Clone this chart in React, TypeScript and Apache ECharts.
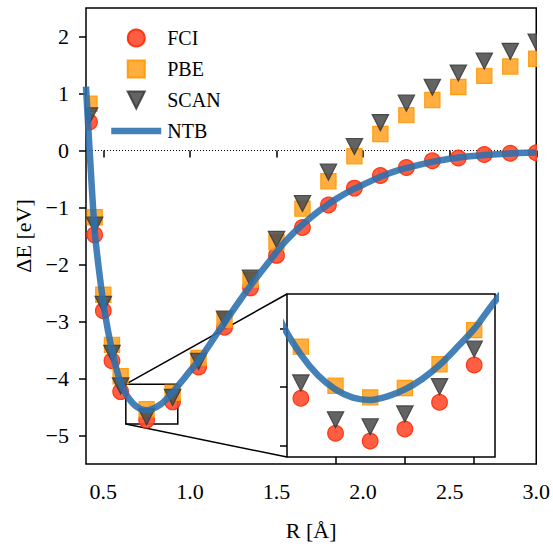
import React, { useEffect, useRef } from 'react';
import * as echarts from 'echarts';

// ---- data ----
const R_MAIN = [0.42, 0.45, 0.5, 0.55, 0.6, 0.75, 0.9, 1.05, 1.2, 1.35, 1.5, 1.65, 1.8, 1.95, 2.1, 2.25, 2.4, 2.55, 2.7, 2.85, 3.0];
const FCI_MAIN = [0.5, -1.48, -2.81, -3.69, -4.23, -4.73, -4.41, -3.8, -3.1, -2.41, -1.84, -1.35, -0.955, -0.66, -0.44, -0.3, -0.18, -0.13, -0.07, -0.05, -0.04];
const PBE_MAIN = [0.82, -1.17, -2.53, -3.41, -3.96, -4.54, -4.25, -3.64, -2.97, -2.27, -1.61, -1.02, -0.54, -0.1, 0.29, 0.62, 0.885, 1.115, 1.31, 1.475, 1.61];
const SCAN_MAIN = [0.61, -1.31, -2.7, -3.56, -4.13, -4.67, -4.33, -3.7, -2.96, -2.24, -1.56, -0.93, -0.38, 0.07, 0.49, 0.83, 1.11, 1.36, 1.57, 1.74, 1.9];

const R_INSET = [0.65, 0.7, 0.75, 0.8, 0.85, 0.9];
const FCI_INSET = [-4.548, -4.698, -4.731, -4.68, -4.565, -4.405];
const PBE_INSET = [-4.326, -4.494, -4.544, -4.504, -4.402, -4.255];
const SCAN_INSET = [-4.482, -4.64, -4.67, -4.615, -4.498, -4.337];

const R_NTB = [0.4, 0.42, 0.45, 0.475, 0.5, 0.525, 0.55, 0.575, 0.6, 0.625, 0.65, 0.675, 0.7, 0.725, 0.75, 0.775, 0.8, 0.825, 0.85, 0.875, 0.9, 0.925, 0.95, 1.0, 1.05, 1.1, 1.15, 1.2, 1.25, 1.3, 1.35, 1.4, 1.45, 1.5, 1.55, 1.6, 1.65, 1.7, 1.75, 1.8, 1.85, 1.9, 1.95, 2.0, 2.1, 2.2, 2.3, 2.4, 2.5, 2.6, 2.7, 2.8, 2.9, 3.0];
const E_NTB = [1.12, 0.05, -1.4, -2.1, -2.67, -3.13, -3.5, -3.82, -4.07, -4.24, -4.36, -4.45, -4.51, -4.545, -4.555, -4.54, -4.51, -4.465, -4.405, -4.33, -4.25, -4.15, -4.06, -3.87, -3.69, -3.47, -3.24, -3.02, -2.8, -2.58, -2.37, -2.17, -1.98, -1.78, -1.6, -1.44, -1.3, -1.17, -1.05, -0.94, -0.84, -0.75, -0.67, -0.6, -0.46, -0.35, -0.27, -0.2, -0.145, -0.105, -0.08, -0.06, -0.045, -0.035];

const X_TICKS = [0.5, 1.0, 1.5, 2.0, 2.5, 3.0];
const Y_TICKS = [-5, -4, -3, -2, -1, 0, 1, 2];
const INSET_X_TICKS = [0.7, 0.8, 0.9];
const INSET_Y_TICKS = [-4.75, -4.5, -4.25];
const ZOOM_X = [0.63, 0.93];
const ZOOM_Y = [-4.8, -4.1];

const FONT = 'Liberation Serif';

const STY: Record<string, { fill: string; stroke: string; opacity: number }> = {
  FCI: { fill: '#ff4d2e', stroke: '#ff2a00', opacity: 0.9 },
  PBE: { fill: '#ffa52a', stroke: '#ff9800', opacity: 0.9 },
  SCAN: { fill: '#4d4d4d', stroke: '#3a3a3a', opacity: 0.88 },
};
const NTB_COLOR = '#2a6fae';

function markerSeries(name: string, shape: string, xs: number[], ys: number[], g: number) {
  const st = STY[name];
  return {
    type: 'custom',
    name,
    xAxisIndex: g,
    yAxisIndex: g,
    clip: true,
    data: xs.map((x, i) => [x, ys[i]]),
    encode: { x: 0, y: 1 },
    itemStyle: { color: st.fill, borderColor: st.stroke, borderWidth: 1.2, opacity: st.opacity },
    renderItem: (params: any, api: any) => {
      const p = api.coord([api.value(0), api.value(1)]);
      const style = { fill: st.fill, stroke: st.stroke, lineWidth: 1.2, opacity: st.opacity };
      if (shape === 'circle') return { type: 'circle', shape: { cx: p[0], cy: p[1], r: 7.8 }, style };
      if (shape === 'square') return { type: 'rect', shape: { x: p[0] - 7.6, y: p[1] - 7.6, width: 15.2, height: 15.2 }, style };
      return { type: 'polygon', shape: { points: [[p[0] - 8.2, p[1] - 8], [p[0] + 8.2, p[1] - 8], [p[0], p[1] + 8]] }, style };
    },
  };
}

function ntbSeries(g: number, extra: any = {}) {
  return {
    type: 'line',
    name: 'NTB',
    xAxisIndex: g,
    yAxisIndex: g,
    data: R_NTB.map((x, i) => [x, E_NTB[i]]),
    showSymbol: false,
    symbol: 'none',
    smooth: 0.3,
    clip: true,
    itemStyle: { color: NTB_COLOR },
    lineStyle: { color: NTB_COLOR, width: 6.5, opacity: 0.88 },
    ...extra,
  };
}

const fmtY = (v: number) => (v < 0 ? '\u2212' + Math.abs(v) : String(v));

export default function App() {
  const ref = useRef<HTMLDivElement>(null);
  useEffect(() => {
    if (!ref.current) return;
    const chart = echarts.init(ref.current, null, { renderer: 'svg' });
    const tickStyle = { color: '#000', width: 1.5 };
    const option: any = {
      animation: false,
      backgroundColor: '#fff',
      textStyle: { fontFamily: FONT },
      grid: [
        { left: 86, top: 8, width: 451, height: 465, show: true, borderColor: '#000', borderWidth: 1.5, backgroundColor: 'transparent' },
        { left: 287, top: 294, width: 208, height: 163, show: true, borderColor: '#000', borderWidth: 1.5, backgroundColor: '#fff' },
      ],
      xAxis: [
        {
          type: 'value', gridIndex: 0, min: 0.4, max: 3.0,
          axisLine: { show: false },
          splitLine: { show: false },
          axisTick: { show: true, length: 7, lineStyle: tickStyle, customValues: X_TICKS },
          axisLabel: { customValues: X_TICKS, formatter: (v: number) => v.toFixed(1), fontSize: 22, fontFamily: FONT, color: '#000', margin: 16 },
          name: 'R [Å]', nameLocation: 'middle', nameGap: 55,
          nameTextStyle: { fontSize: 22, fontFamily: FONT, color: '#000' },
        },
        {
          type: 'value', gridIndex: 1, min: ZOOM_X[0], max: ZOOM_X[1],
          axisLine: { show: false },
          splitLine: { show: false },
          axisTick: { show: true, length: 7, lineStyle: tickStyle, customValues: INSET_X_TICKS },
          axisLabel: { show: false },
        },
      ],
      yAxis: [
        {
          type: 'value', gridIndex: 0, min: -5.5, max: 2.5,
          axisLine: { show: false },
          splitLine: { show: false },
          axisTick: { show: true, length: 7, lineStyle: tickStyle, customValues: Y_TICKS },
          axisLabel: { customValues: Y_TICKS, formatter: fmtY, fontSize: 22, fontFamily: FONT, color: '#000', margin: 17 },
          name: 'ΔE [eV]', nameLocation: 'middle', nameGap: 44, nameRotate: 90,
          nameTextStyle: { fontSize: 22, fontFamily: FONT, color: '#000' },
        },
        {
          type: 'value', gridIndex: 1, min: ZOOM_Y[0], max: ZOOM_Y[1],
          axisLine: { show: false },
          splitLine: { show: false },
          axisTick: { show: true, length: 7, lineStyle: tickStyle, customValues: INSET_Y_TICKS },
          axisLabel: { show: false },
        },
      ],
      legend: {
        orient: 'vertical', left: 103, top: 23, itemWidth: 50, itemHeight: 17, itemGap: 11,
        selectedMode: false,
        textStyle: { fontSize: 20, fontFamily: FONT, color: '#000', padding: [0, 0, 0, 1] },
        data: [
          { name: 'FCI', icon: 'circle' },
          { name: 'PBE', icon: 'path://M0,0L1,0L1,1L0,1Z' },
          { name: 'SCAN', icon: 'path://M0,0L2,0L1,2Z' },
          { name: 'NTB', itemStyle: { opacity: 0 }, lineStyle: { width: 6.5, color: NTB_COLOR, opacity: 0.88 } },
        ],
      },
      series: [
        markerSeries('FCI', 'circle', R_MAIN, FCI_MAIN, 0),
        markerSeries('PBE', 'square', R_MAIN, PBE_MAIN, 0),
        markerSeries('SCAN', 'triangle', R_MAIN, SCAN_MAIN, 0),
        ntbSeries(0, {
          markLine: {
            silent: true, z: 1, symbol: ['none', 'none'], label: { show: false },
            lineStyle: { color: '#000', width: 1, type: [1, 2], opacity: 1 },
            emphasis: { disabled: true },
            data: [{ yAxis: 0 }],
          },
          markArea: {
            silent: true, z: 1, label: { show: false },
            itemStyle: { color: 'rgba(0,0,0,0)', borderColor: '#000', borderWidth: 1.5 },
            data: [[{ coord: [ZOOM_X[0], ZOOM_Y[1]] }, { coord: [ZOOM_X[1], ZOOM_Y[0]] }]],
          },
        }),
        markerSeries('FCI', 'circle', R_INSET, FCI_INSET, 1),
        markerSeries('PBE', 'square', R_INSET, PBE_INSET, 1),
        markerSeries('SCAN', 'triangle', R_INSET, SCAN_INSET, 1),
        ntbSeries(1),
      ],
    };
    chart.setOption(option);
    const a1 = chart.convertToPixel({ gridIndex: 0 } as any, [ZOOM_X[0], ZOOM_Y[1]]) as number[];
    const b1 = chart.convertToPixel({ gridIndex: 1 } as any, [ZOOM_X[0], ZOOM_Y[1]]) as number[];
    const a2 = chart.convertToPixel({ gridIndex: 0 } as any, [ZOOM_X[0], ZOOM_Y[0]]) as number[];
    const b2 = chart.convertToPixel({ gridIndex: 1 } as any, [ZOOM_X[0], ZOOM_Y[0]]) as number[];
    chart.setOption({
      graphic: [
        { type: 'line', z: 1, silent: true, shape: { x1: a1[0], y1: a1[1], x2: b1[0], y2: b1[1] }, style: { stroke: '#000', lineWidth: 1.5 } },
        { type: 'line', z: 1, silent: true, shape: { x1: a2[0], y1: a2[1], x2: b2[0], y2: b2[1] }, style: { stroke: '#000', lineWidth: 1.5 } },
      ],
    });
    return () => chart.dispose();
  }, []);
  return <div ref={ref} style={{ position: 'absolute', left: 0, top: 0, width: 553, height: 546 }} />;
}
